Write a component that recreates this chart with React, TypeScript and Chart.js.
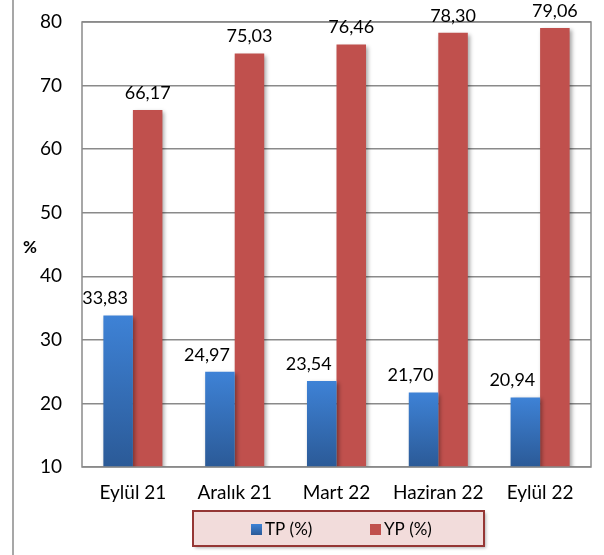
import React, { useEffect, useRef } from "react";
import { Chart, registerables } from "chart.js";

Chart.register(...registerables);

const categories = ["Eylül 21", "Aralık 21", "Mart 22", "Haziran 22", "Eylül 22"];
const tpValues = [33.83, 24.97, 23.54, 21.7, 20.94];
const ypValues = [66.17, 75.03, 76.46, 78.3, 79.06];
const seriesLabels = ["TP (%)", "YP (%)"];
const yMin = 10;
const yMax = 80;
const yStep = 10;
const yTitle = "%";

const FONT = "Lato, 'Open Sans', sans-serif";
const BLUE_TOP = "#3e82d6";
const BLUE_BOTTOM = "#2b5a97";
const RED = "#c0504d";
const GRID = "#8a8a8a";

const fmt = (v: number) => v.toFixed(2).replace(".", ",");

const blueGradient = (ctx: any) => {
  const chart = ctx.chart;
  const area = chart.chartArea;
  const ys = chart.scales?.y;
  if (!area || !ys || ctx.parsed == null) return BLUE_TOP;
  const top = ys.getPixelForValue(ctx.parsed.y);
  const bottom = area.bottom;
  if (!isFinite(top) || bottom - top < 1) return BLUE_TOP;
  const g = chart.ctx.createLinearGradient(0, top, 0, bottom);
  g.addColorStop(0, BLUE_TOP);
  g.addColorStop(1, BLUE_BOTTOM);
  return g;
};

const decorPlugin = {
  id: "decor",
  beforeDatasetsDraw(chart: any) {
    const ctx = chart.ctx;
    ctx.save();
    ctx.shadowColor = "rgba(0,0,0,0.35)";
    ctx.shadowBlur = 4;
    ctx.shadowOffsetX = 2;
    ctx.shadowOffsetY = 2;
  },
  afterDatasetsDraw(chart: any) {
    const ctx = chart.ctx;
    ctx.restore();
    const area = chart.chartArea;
    ctx.save();
    ctx.strokeStyle = GRID;
    ctx.lineWidth = 1.5;
    ctx.strokeRect(area.left, area.top, area.right - area.left, area.bottom - area.top);
    ctx.restore();

    ctx.save();
    ctx.font = `18px ${FONT}`;
    ctx.fillStyle = "#000";
    ctx.textAlign = "center";
    ctx.textBaseline = "middle";
    chart.data.datasets.forEach((ds: any, di: number) => {
      const meta = chart.getDatasetMeta(di);
      meta.data.forEach((el: any, i: number) => {
        const dx = di === 0 ? -13 : 0;
        ctx.fillText(fmt(ds.data[i]), el.x + dx, el.y - 17);
      });
    });
    ctx.restore();
  },
  afterDraw(chart: any) {
    const ctx = chart.ctx;
    ctx.save();
    ctx.strokeStyle = GRID;
    ctx.lineWidth = 1.5;
    ctx.beginPath();
    ctx.moveTo(13, 0);
    ctx.lineTo(13, chart.height);
    ctx.stroke();

    ctx.font = `bold 17px ${FONT}`;
    ctx.fillStyle = "#000";
    ctx.textAlign = "center";
    ctx.textBaseline = "middle";
    ctx.fillText(yTitle, 30, 248);

    const lx = 193, ly = 511, lw = 291, lh = 35;
    ctx.shadowColor = "rgba(0,0,0,0.3)";
    ctx.shadowBlur = 3;
    ctx.shadowOffsetX = 2;
    ctx.shadowOffsetY = 2;
    ctx.fillStyle = "#f2dcdb";
    ctx.fillRect(lx, ly, lw, lh);
    ctx.shadowColor = "transparent";
    ctx.strokeStyle = "#953735";
    ctx.lineWidth = 2;
    ctx.strokeRect(lx, ly, lw, lh);

    const items = [
      { x: 251, color: "grad", text: chart.data.datasets[0].label },
      { x: 370, color: RED, text: chart.data.datasets[1].label },
    ];
    ctx.font = `17px ${FONT}`;
    ctx.textAlign = "left";
    ctx.textBaseline = "middle";
    items.forEach((it) => {
      if (it.color === "grad") {
        const g = ctx.createLinearGradient(0, 524, 0, 535);
        g.addColorStop(0, BLUE_TOP);
        g.addColorStop(1, BLUE_BOTTOM);
        ctx.fillStyle = g;
      } else {
        ctx.fillStyle = it.color;
      }
      ctx.fillRect(it.x, 524, 11, 11);
      ctx.fillStyle = "#000";
      ctx.fillText(it.text, it.x + 14, 530);
    });
    ctx.restore();
  },
};

export default function App() {
  const canvasRef = useRef<HTMLCanvasElement | null>(null);

  useEffect(() => {
    if (!canvasRef.current) return;
    const chart = new Chart(canvasRef.current, {
      type: "bar",
      data: {
        labels: categories,
        datasets: [
          {
            label: seriesLabels[0],
            data: tpValues,
            backgroundColor: blueGradient as any,
            borderWidth: 0,
          },
          {
            label: seriesLabels[1],
            data: ypValues,
            backgroundColor: RED,
            borderWidth: 0,
          },
        ],
      },
      options: {
        animation: false,
        responsive: true,
        maintainAspectRatio: false,
        layout: { padding: { left: 0, top: 22, right: 13, bottom: 0 } },
        datasets: {
          bar: { categoryPercentage: 0.58, barPercentage: 1 },
        },
        plugins: {
          legend: { display: false },
          tooltip: { enabled: false },
          title: { display: false },
        },
        scales: {
          x: {
            grid: { display: false, drawTicks: false },
            border: { display: false },
            ticks: {
              color: "#000",
              font: { family: FONT, size: 19 },
              padding: 14,
              maxRotation: 0,
            },
            afterFit: (s: any) => {
              s.height = 88;
              s.paddingLeft = 0;
              s.paddingRight = 0;
            },
          },
          y: {
            min: yMin,
            max: yMax,
            grid: { color: GRID, lineWidth: 1.5, drawTicks: false },
            border: { display: false },
            ticks: {
              stepSize: yStep,
              color: "#000",
              font: { family: FONT, size: 19 },
              padding: 20,
            },
            afterFit: (s: any) => {
              s.width = 82;
              s.paddingTop = 0;
              s.paddingBottom = 0;
            },
          },
        },
      },
      plugins: [decorPlugin],
    });
    return () => chart.destroy();
  }, []);

  return (
    <div style={{ position: "fixed", left: 0, top: 0, width: 604, height: 555, background: "#fff" }}>
      <canvas ref={canvasRef} />
    </div>
  );
}
